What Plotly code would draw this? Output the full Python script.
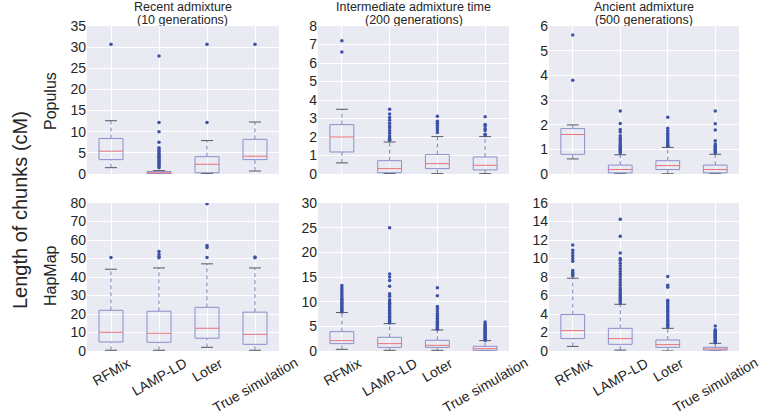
import plotly.graph_objects as go

methods = ["RFMix", "LAMP-LD", "Loter", "True simulation"]
positions = [1, 2, 3, 4]
col_titles_l1 = ["Recent admixture", "Intermediate admixture time", "Ancient admixture"]
col_titles_l2 = ["(10 generations)", "(200 generations)", "(500 generations)"]
row_labels = ["Populus", "HapMap"]
y_label = "Length of chunks (cM)"

# ---- Populus, 10 generations
pop10_lo = [1.5, 0.0, 0.1, 0.7]
pop10_q1 = [3.4, 0.1, 0.3, 3.4]
pop10_med = [5.4, 0.3, 2.3, 4.2]
pop10_q3 = [8.4, 0.6, 4.1, 8.2]
pop10_hi = [12.6, 0.8, 7.9, 12.3]
pop10_out = [[30.7],
             [27.9, 12.2, 10.0, 7.5, 6.2, 5.9, 5.5, 5.2, 4.8, 4.5, 4.2, 3.9, 3.6, 3.3, 3.0, 2.7, 2.4, 2.1, 1.8, 1.5],
             [30.7, 12.2],
             [30.7]]
pop10_ticks = [0, 5, 10, 15, 20, 25, 30, 35]

# ---- Populus, 200 generations
pop200_lo = [0.6, 0.03, 0.02, 0.02]
pop200_q1 = [1.19, 0.07, 0.29, 0.22]
pop200_med = [2.0, 0.29, 0.56, 0.47]
pop200_q3 = [2.67, 0.72, 1.05, 0.92]
pop200_hi = [3.5, 1.73, 2.02, 2.02]
pop200_out = [[7.2, 6.6],
              [3.5, 3.25, 3.05, 2.9, 2.75, 2.6, 2.5, 2.35, 2.2, 2.05, 1.95, 1.88, 1.82],
              [3.12, 2.85, 2.75, 2.62, 2.5, 2.38, 2.25],
              [3.1, 2.68, 2.6, 2.45, 2.35, 2.15, 2.08]]
pop200_ticks = [0, 1, 2, 3, 4, 5, 6, 7, 8]

# ---- Populus, 500 generations
pop500_lo = [0.61, 0.01, 0.01, 0.01]
pop500_q1 = [0.8, 0.05, 0.18, 0.05]
pop500_med = [1.6, 0.18, 0.34, 0.18]
pop500_q3 = [1.84, 0.36, 0.54, 0.36]
pop500_hi = [1.99, 0.78, 1.08, 0.8]
pop500_out = [[5.64, 3.8],
              [2.55, 2.05, 1.8, 1.7, 1.55, 1.45, 1.38, 1.3, 1.22, 1.15, 1.1, 1.05, 1.0, 0.95, 0.9, 0.85],
              [2.3, 1.85, 1.75, 1.65, 1.58, 1.5, 1.42, 1.35, 1.28, 1.22, 1.17, 1.12],
              [2.55, 2.04, 1.78, 1.35, 1.22, 1.15, 1.1, 1.05, 1.0, 0.95, 0.9, 0.85]]
pop500_ticks = [0, 1, 2, 3, 4, 5, 6]

# ---- HapMap, 10 generations
hap10_lo = [0.4, 0.4, 2.0, 0.4]
hap10_q1 = [4.9, 4.7, 6.9, 3.6]
hap10_med = [10.1, 9.6, 12.3, 9.0]
hap10_q3 = [22.0, 21.5, 23.6, 21.0]
hap10_hi = [44.2, 44.9, 47.1, 44.9]
hap10_out = [[50.6],
             [53.8, 52.2, 51.0, 50.4],
             [79.6, 57.0, 56.0, 50.6],
             [50.8, 50.4]]
hap10_ticks = [0, 10, 20, 30, 40, 50, 60, 70, 80]

# ---- HapMap, 200 generations
hap200_lo = [0.34, 0.14, 0.14, 0.01]
hap200_q1 = [1.49, 0.74, 0.74, 0.14]
hap200_med = [2.1, 1.49, 1.15, 0.47]
hap200_q3 = [3.93, 2.78, 2.17, 0.95]
hap200_hi = [7.8, 5.55, 4.27, 2.1]
hap200_out = [[13.3, 12.8, 12.4, 12.0, 11.6, 11.2, 10.8, 10.5, 10.2, 9.9, 9.6, 9.3, 9.0, 8.7, 8.5, 8.3, 8.1, 7.9],
              [25.0, 15.6, 15.0, 14.3, 13.1, 11.6, 11.1, 10.4, 10.0, 9.7, 9.4, 9.1, 8.8, 8.5, 8.2, 7.9,
               7.6, 7.3, 7.0, 6.8, 6.5, 6.3, 6.1, 5.9, 5.7],
              [12.8, 11.2, 9.0, 8.6, 8.1, 7.6, 7.2, 6.9, 6.6, 6.3, 6.0, 5.8, 5.5, 5.3, 5.1, 4.9, 4.7, 4.5, 4.4],
              [5.9, 5.5, 5.2, 4.9, 4.7, 4.5, 4.3, 4.1, 3.9, 3.7, 3.5, 3.3, 3.1, 2.9, 2.7, 2.5, 2.3, 2.2]]
hap200_ticks = [0, 5, 10, 15, 20, 25, 30]

# ---- HapMap, 500 generations
hap500_lo = [0.5, 0.1, 0.0, 0.0]
hap500_q1 = [1.34, 0.72, 0.4, 0.1]
hap500_med = [2.2, 1.34, 0.69, 0.22]
hap500_q3 = [3.94, 2.45, 1.19, 0.4]
hap500_hi = [7.87, 5.05, 2.45, 0.83]
hap500_out = [[11.45, 10.9, 10.6, 10.3, 10.0, 9.7, 8.7, 8.5, 8.3, 8.1],
              [14.25, 12.4, 10.6, 10.0, 9.8, 9.5, 9.2, 8.9, 8.6, 8.3, 8.0, 7.7, 7.4, 7.1, 6.8, 6.6, 6.4,
               6.2, 6.0, 5.8, 5.6, 5.4, 5.2],
              [8.05, 7.1, 6.9, 5.5, 5.3, 5.1, 4.9, 4.7, 4.5, 4.3, 4.1, 3.9, 3.7, 3.5, 3.3, 3.1, 2.9, 2.75, 2.6],
              [2.7, 2.3, 2.2, 2.1, 2.0, 1.9, 1.8, 1.7, 1.6, 1.5, 1.4, 1.3, 1.2, 1.1, 1.0, 0.9]]
hap500_ticks = [0, 2, 4, 6, 8, 10, 12, 14, 16]

panels = [
    (pop10_lo, pop10_q1, pop10_med, pop10_q3, pop10_hi, pop10_out, pop10_ticks),
    (pop200_lo, pop200_q1, pop200_med, pop200_q3, pop200_hi, pop200_out, pop200_ticks),
    (pop500_lo, pop500_q1, pop500_med, pop500_q3, pop500_hi, pop500_out, pop500_ticks),
    (hap10_lo, hap10_q1, hap10_med, hap10_q3, hap10_hi, hap10_out, hap10_ticks),
    (hap200_lo, hap200_q1, hap200_med, hap200_q3, hap200_hi, hap200_out, hap200_ticks),
    (hap500_lo, hap500_q1, hap500_med, hap500_q3, hap500_hi, hap500_out, hap500_ticks),
]

# ---- styling
W, H = 760, 419
BG = "#EAEAF2"
BOX_C = "#8a8fcc"
WHISK_C = "#7c82bc"
CAP_C = "#55575f"
MED_C = "#e8737a"
OUT_C = "#3b52a6"
TXT_C = "#262626"
FONT = "Liberation Sans, Arial, sans-serif"
BOX_HALF = 0.25
CAP_HALF = 0.125

x_domains = [[87 / W, 279 / W], [318 / W, 509 / W], [549 / W, 739 / W]]
y_domains = [[1 - 174 / H, 1 - 26 / H], [1 - 351 / H, 1 - 203 / H]]

fig = go.Figure()
layout = dict(width=W, height=H, margin=dict(l=0, r=0, t=0, b=0),
              paper_bgcolor="white", plot_bgcolor=BG, showlegend=False,
              font=dict(family=FONT, color=TXT_C))

ann = []
for k, (lo, q1, med, q3, hi, outs, ticks) in enumerate(panels):
    r, c = divmod(k, 3)
    n = k + 1
    xa = "x" if n == 1 else f"x{n}"
    ya = "y" if n == 1 else f"y{n}"

    bx, by, mx, my, wx, wy, cx, cy, ox, oy = [], [], [], [], [], [], [], [], [], []
    for i, p in enumerate(positions):
        bx += [p - BOX_HALF, p + BOX_HALF, p + BOX_HALF, p - BOX_HALF, p - BOX_HALF, None]
        by += [q1[i], q1[i], q3[i], q3[i], q1[i], None]
        mx += [p - BOX_HALF, p + BOX_HALF, None]
        my += [med[i], med[i], None]
        wx += [p, p, None, p, p, None]
        wy += [lo[i], q1[i], None, q3[i], hi[i], None]
        cx += [p - CAP_HALF, p + CAP_HALF, None, p - CAP_HALF, p + CAP_HALF, None]
        cy += [lo[i], lo[i], None, hi[i], hi[i], None]
        ox += [p] * len(outs[i])
        oy += outs[i]

    fig.add_trace(go.Scatter(x=wx, y=wy, mode="lines", xaxis=xa, yaxis=ya,
                             line=dict(color=WHISK_C, width=1, dash="4px,3px"), hoverinfo="skip"))
    fig.add_trace(go.Scatter(x=cx, y=cy, mode="lines", xaxis=xa, yaxis=ya,
                             line=dict(color=CAP_C, width=1), hoverinfo="skip"))
    fig.add_trace(go.Scatter(x=bx, y=by, mode="lines", xaxis=xa, yaxis=ya,
                             line=dict(color=BOX_C, width=1), hoverinfo="skip"))
    fig.add_trace(go.Scatter(x=mx, y=my, mode="lines", xaxis=xa, yaxis=ya,
                             line=dict(color=MED_C, width=1), hoverinfo="skip"))
    fig.add_trace(go.Scatter(x=ox, y=oy, mode="markers", xaxis=xa, yaxis=ya,
                             marker=dict(color=OUT_C, size=3.5, line=dict(width=0)),
                             hoverinfo="skip"))

    xkey = "xaxis" if n == 1 else f"xaxis{n}"
    ykey = "yaxis" if n == 1 else f"yaxis{n}"
    layout[xkey] = dict(domain=x_domains[c], anchor=ya, range=[0.5, 4.5],
                        tickvals=positions, showticklabels=False, automargin=False,
                        showgrid=True, gridcolor="white", gridwidth=1,
                        zeroline=False, showline=False, ticks="")
    layout[ykey] = dict(domain=y_domains[r], anchor=xa, range=[ticks[0], ticks[-1]],
                        tickvals=ticks, tickfont=dict(size=14, color=TXT_C), automargin=False,
                        showgrid=True, gridcolor="white", gridwidth=1,
                        zeroline=False, showline=False, ticks="")

    # category labels under the bottom row, centred under each box and rotated
    if r == 1:
        for i, p in enumerate(positions):
            ann.append(dict(text=methods[i], x=p, xref=xa, y=1 - 352 / H, yref="paper",
                            xanchor="center", yanchor="top", textangle=-30, showarrow=False,
                            font=dict(size=14, color=TXT_C)))

fig.update_layout(**layout)

for c in range(3):
    xc = sum(x_domains[c]) / 2
    ann.append(dict(text=col_titles_l1[c], x=xc, y=1 - 6.5 / H, height=13, borderpad=0,
                    xref="paper", yref="paper", xanchor="center", yanchor="middle",
                    showarrow=False, font=dict(size=12.5, color=TXT_C)))
    ann.append(dict(text=col_titles_l2[c], x=xc, y=1 - 20 / H, height=13, borderpad=0,
                    xref="paper", yref="paper", xanchor="center", yanchor="middle",
                    showarrow=False, font=dict(size=12.5, color=TXT_C)))
ann.append(dict(text=row_labels[0], x=50 / W, y=1 - 101 / H, xref="paper", yref="paper",
                xanchor="center", yanchor="middle", textangle=-90, showarrow=False,
                font=dict(size=16, color=TXT_C)))
ann.append(dict(text=row_labels[1], x=50 / W, y=1 - 276 / H, xref="paper", yref="paper",
                xanchor="center", yanchor="middle", textangle=-90, showarrow=False,
                font=dict(size=16, color=TXT_C)))
ann.append(dict(text=y_label, x=20 / W, y=1 - 210 / H, xref="paper", yref="paper",
                xanchor="center", yanchor="middle", textangle=-90, showarrow=False,
                font=dict(size=20, color=TXT_C)))
fig.update_layout(annotations=ann)

fig.write_html("out.html", config={"displayModeBar": False},
               post_script="document.body.style.margin='0px';")
